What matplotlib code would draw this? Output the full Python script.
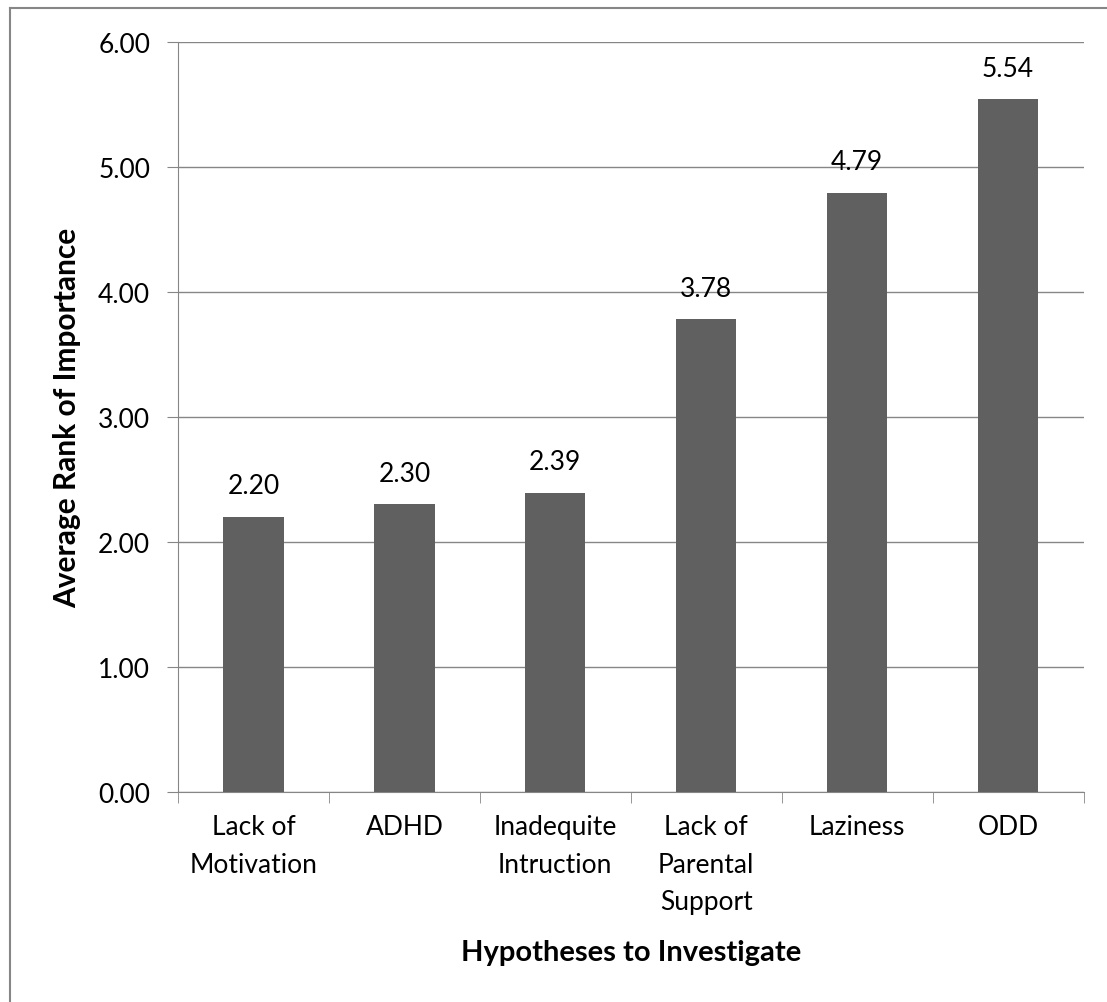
import matplotlib as mpl
mpl.use('Agg')
import matplotlib.pyplot as plt
from matplotlib.lines import Line2D
import numpy as np

categories = ['Lack of\nMotivation', 'ADHD', 'Inadequite\nIntruction',
              'Lack of\nParental\nSupport', 'Laziness', 'ODD']
values = [2.20, 2.30, 2.39, 3.78, 4.79, 5.54]
yticks = [0, 1, 2, 3, 4, 5, 6]

plt.rcParams['font.family'] = ['Lato', 'DejaVu Sans']

W, H = 1107, 1003
fig = plt.figure(figsize=(W / 100, H / 100), dpi=100)
ax = fig.add_axes([0.1608, 0.2094, 0.818, 0.7478])

x = np.arange(len(values))
ax.bar(x, values, width=0.40, color='#606060', zorder=3)
for xi, v in zip(x, values):
    ax.text(xi, v + 0.15, '%.2f' % v, ha='center', va='bottom', fontsize=19, color='black')

ax.set_xlim(-0.5, len(values) - 0.5)
ax.set_ylim(0, 6)
ax.set_yticks(yticks)
ax.set_yticklabels(['%.2f' % t for t in yticks], fontsize=19)
ax.yaxis.grid(True, color='#868686', linewidth=1, zorder=0)

ax.set_xticks(x)
ax.set_xticklabels(categories, fontsize=19, linespacing=1.62)
ax.set_xticks(np.arange(-0.5, len(values)), minor=True)
ax.tick_params(axis='x', which='major', length=0, pad=16)
ax.tick_params(axis='x', which='minor', length=8, color='#868686')
ax.tick_params(axis='y', length=8, color='#868686', pad=12)

for s in ['top', 'right']:
    ax.spines[s].set_visible(False)
for s in ['left', 'bottom']:
    ax.spines[s].set_color('#868686')

ax.set_xlabel('Hypotheses to Investigate', fontsize=21, fontweight='bold', labelpad=18)
ax.set_ylabel('Average Rank of Importance', fontsize=21.5, fontweight='bold', labelpad=12)

# outer chart border (left and top edges visible)
fig.add_artist(Line2D([9.5 / W, 9.5 / W], [0, 1 - 8.5 / H], transform=fig.transFigure,
                      color='#868686', linewidth=1.5))
fig.add_artist(Line2D([9.5 / W, 1], [1 - 8.5 / H, 1 - 8.5 / H], transform=fig.transFigure,
                      color='#868686', linewidth=1.5))

fig.savefig('out.png', dpi=100)
